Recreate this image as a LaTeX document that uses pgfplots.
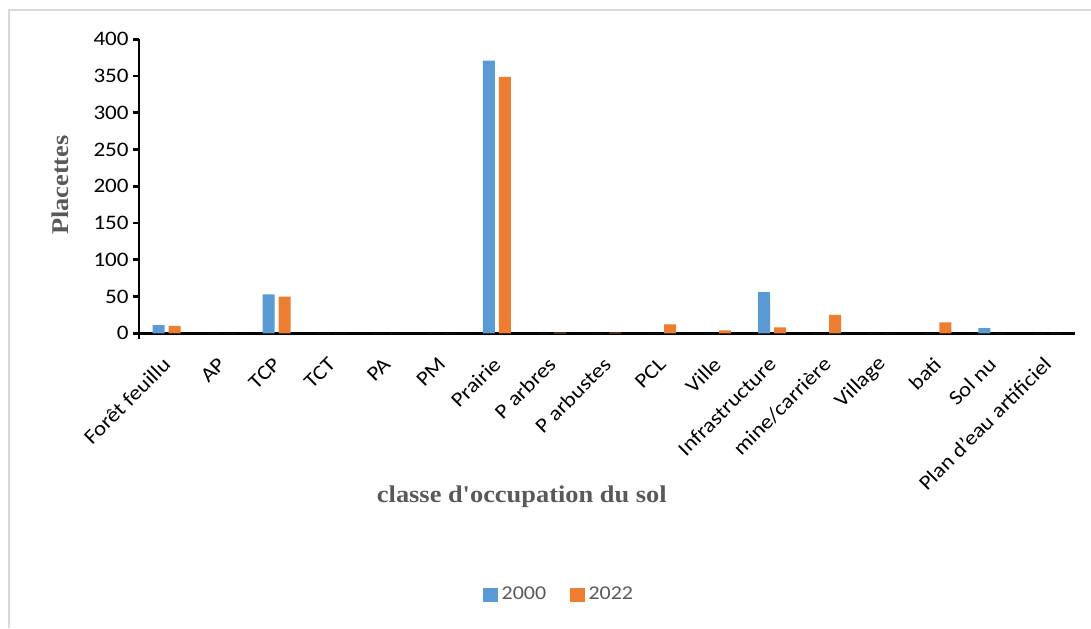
\documentclass[border=0pt]{standalone}
\usepackage{fontspec}
\setmainfont[FakeStretch=1.12]{Carlito}
\newfontfamily\titlefont[FakeStretch=1.1]{Liberation Serif}
\usepackage{pgfplots}
\pgfplotsset{compat=1.18}
\definecolor{bblue}{HTML}{5B9BD5}
\definecolor{borange}{HTML}{ED7D31}
\definecolor{titlegray}{HTML}{595959}
\definecolor{framegray}{HTML}{D9D9D9}

\begin{document}
\begin{tikzpicture}
\useasboundingbox (0,0) rectangle (545.5pt,314pt);
\draw[framegray, line width=1pt] (4.5pt,0) -- (4.5pt,309pt) -- (545.5pt,309pt);
\begin{axis}[
  at={(69.5pt,147.35pt)}, anchor=south west,
  scale only axis, width=468pt, height=147pt,
  ybar, bar width=6pt,
  xmin=-0.5, xmax=16.5, ymin=0, ymax=400,
  ytick={0,50,...,400},
  xtick={0,...,16},
  xticklabels={Forêt feuillu, AP, TCP, TCT, PA, PM, Prairie, P arbres, P arbustes, PCL, Ville, Infrastructure, mine/carrière, Village, bati, Sol nu, Plan d'eau artificiel},
  minor xtick={-0.5,0.5,...,16.5},
  axis lines*=left,
  axis line style={line width=1.35pt, black, shorten <=-3pt},
  tick align=outside,
  major tick length=3pt, minor tick length=3pt,
  xtick style={draw=none},
  minor x tick style={line width=1.35pt, black},
  ytick style={line width=1.35pt, black},
  tick label style={font=\fontsize{10.3}{12}\selectfont, black},
  /pgf/number format/assume math mode=true,
  x tick label style={rotate=45, anchor=east, inner sep=1pt, xshift=-6.4pt, yshift=-7.7pt},
  y tick label style={inner sep=2pt},
  xlabel={classe d'occupation du sol},
  ylabel={Placettes},
  label style={font=\titlefont\bfseries\fontsize{12}{14}\selectfont, text=titlegray},
  xlabel style={at={(axis description cs:0.409,-0.557)}, anchor=center},
  ylabel style={at={(axis description cs:-0.0844,0.504)}, anchor=center, rotate=0},
  legend style={at={(axis description cs:0.45,-0.89)}, anchor=center, draw=none,
    legend columns=2, font=\fontsize{9.8}{11}\selectfont, text=titlegray,
    /tikz/every even column/.append style={column sep=10pt}},
  legend image code/.code={\fill[#1] (0pt,-3.6pt) rectangle (7.2pt,3.6pt);},
]
\addplot[fill=bblue, draw=none, bar shift=-4pt] coordinates {
 (0,11) (1,0) (2,53) (3,0) (4,0) (5,0) (6,371) (7,0) (8,0) (9,0)
 (10,0) (11,56) (12,0) (13,0) (14,0) (15,7) (16,0)};
\addplot[fill=borange, draw=none, bar shift=4pt] coordinates {
 (0,10) (1,0) (2,50) (3,0) (4,0) (5,0) (6,349) (7,1) (8,1) (9,12)
 (10,4) (11,8) (12,25) (13,0) (14,15) (15,0) (16,0)};
\legend{2000,2022}
\end{axis}
\end{tikzpicture}
\end{document}
